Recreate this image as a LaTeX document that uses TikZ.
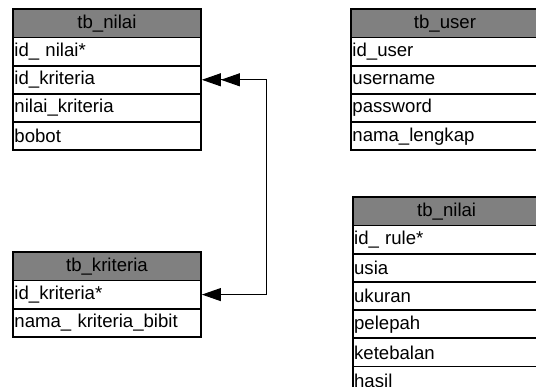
\documentclass[tikz,border=0pt]{standalone}
\usepackage{fontspec}
\setmainfont{Liberation Sans}
\usetikzlibrary{arrows.meta,positioning}
\definecolor{hdr}{RGB}{128,128,128}
\tikzset{
  rowbox/.style={draw=black, line width=0.9pt, fill=white, minimum width=187pt, minimum height=27.3pt,
    text width=185pt, align=left, inner xsep=1pt, inner ysep=0pt, anchor=north west,
    font=\fontsize{18.6}{20}\selectfont},
  hdrbox/.style={rowbox, fill=hdr, align=center},
  outerbox/.style={draw=black, line width=2pt},
  link/.style={draw=black, line width=1pt},
}
\begin{document}
\begin{tikzpicture}[x=1pt,y=-1pt]
\useasboundingbox (0,0) rectangle (536,387);
\clip (0,0) rectangle (536,387);
% tb_nilai (left)
\node[hdrbox] (a0) at (13,9.3) {tb\_nilai};
\node[rowbox] (a1) at (a0.south west) {id\_ nilai*};
\node[rowbox] (a2) at (a1.south west) {id\_kriteria};
\node[rowbox] (a3) at (a2.south west) {nilai\_kriteria};
\node[rowbox] (a4) at (a3.south west) {bobot};
\draw[outerbox] (a0.north west) rectangle (a4.south east);
% tb_kriteria
\node[hdrbox] (k0) at (13,252.3) {tb\_kriteria};
\node[rowbox] (k1) at (k0.south west) {id\_kriteria*};
\node[rowbox] (k2) at (k1.south west) {nama\_ kriteria\_bibit};
\draw[outerbox] (k0.north west) rectangle (k2.south east);
% tb_user
\node[hdrbox] (u0) at (351,9.3) {tb\_user};
\node[rowbox] (u1) at (u0.south west) {id\_user};
\node[rowbox] (u2) at (u1.south west) {username};
\node[rowbox] (u3) at (u2.south west) {password};
\node[rowbox] (u4) at (u3.south west) {nama\_lengkap};
\draw[outerbox] (u0.north west) rectangle (u4.south east);
% tb_nilai (right)
\node[hdrbox] (r0) at (352.7,197.3) {tb\_nilai};
\node[rowbox] (r1) at (r0.south west) {id\_ rule*};
\node[rowbox] (r2) at (r1.south west) {usia};
\node[rowbox] (r3) at (r2.south west) {ukuran};
\node[rowbox] (r4) at (r3.south west) {pelepah};
\node[rowbox] (r5) at (r4.south west) {ketebalan};
\node[rowbox] (r6) at (r5.south west) {hasil};
\draw[outerbox] (r0.north west) rectangle (r6.south east);
% connector
\coordinate (cx) at (266,0);
\draw[link, {Triangle[length=19pt,width=13pt]}-{Triangle[length=19pt,width=13pt]Triangle[length=19pt,width=13pt]}]
  ([xshift=1pt]k1.east) -- (k1.east -| cx) -- (a2.east -| cx) -- ([xshift=1pt]a2.east);
\end{tikzpicture}
\end{document}
